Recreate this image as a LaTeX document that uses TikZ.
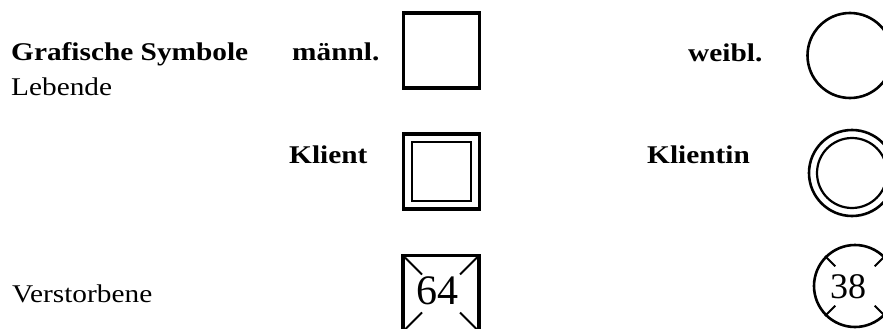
\documentclass[tikz,border=0pt]{standalone}
\usepackage{fontspec}
\setmainfont{Liberation Serif}[FakeStretch=1.15]
\newfontfamily\numfont{Liberation Serif}
\usetikzlibrary{calc}

\tikzset{
  label text/.style={inner sep=0pt, anchor=base west, font=\fontsize{25.5}{30}\selectfont},
  head text/.style={label text, font=\fontsize{25.5}{30}\selectfont\bfseries},
  malebox/.style={draw, line width=3.4pt, rectangle, inner sep=0pt, minimum width=76pt, minimum height=75pt},
  innerbox/.style={draw, line width=2.4pt, rectangle, inner sep=0pt, minimum size=59pt},
  femring/.style={draw, line width=2.6pt, circle, inner sep=0pt},
  tick/.style={line width=2pt},
  age/.style={inner sep=0pt, anchor=base, font=\numfont\fontsize{#1}{#1}\selectfont}
}

\begin{document}
\begin{tikzpicture}[x=1pt, y=-1pt]
  \useasboundingbox (0,0) rectangle (883,329);
  \clip (0,0) rectangle (883,329);
  \fill[white] (0,0) rectangle (883,329);

  % row labels
  \node[head text] (title) at (11,61) {Grafische Symbole};
  \node[label text] (living) at (11,95) {Lebende};
  \node[label text] (dead) at (12,302) {Verstorbene};

  % column / symbol labels
  \node[head text] (male) at (292,61) {männl.};
  \node[head text] (female) at (688,62) {weibl.};
  \node[head text] (client) at (289,163) {Klient};
  \node[head text] (clientf) at (647,163) {Klientin};

  % living male and female
  \node[malebox] (m1) at (441.5,50.5) {};
  \node[femring, minimum size=85pt] (f1) at (850,55.5) {};

  % index persons: double outline
  \node[malebox] (m2) at (441.5,171.5) {};
  \node[innerbox] (m2in) at (441.5,171.5) {};
  \node[femring, minimum size=86pt] (f2) at (852,173) {};
  \node[femring, line width=2.2pt, minimum size=70pt] (f2in) at (852,173) {};

  % deceased: corner ticks and age
  \node[malebox, minimum height=76pt] (m3) at (441,293.5) {};
  \draw[tick] (m3.center) ++(-36,-36) -- ++(17,17);
  \draw[tick] (m3.center) ++(36,-36) -- ++(-17,17);
  \draw[tick] (m3.center) ++(-36,36) -- ++(17,-17);
  \draw[tick] (m3.center) ++(36,36) -- ++(-17,-17);
  \node[age=42] (m3age) at (437.5,304) {64};

  \node[femring, minimum size=82pt] (f3) at (855,286) {};
  \foreach \a in {45,135,225,315}
    \draw[tick] (f3.\a) -- ($(f3.center)!0.66!(f3.\a)$);
  \node[age=36] (f3age) at (848,298) {38};
\end{tikzpicture}
\end{document}
